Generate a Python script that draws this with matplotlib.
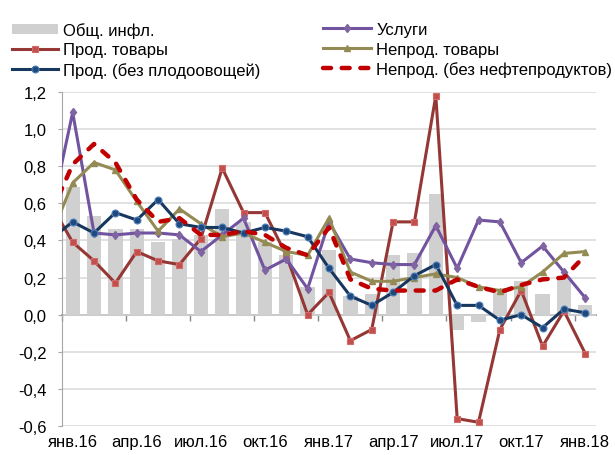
import numpy as np
import matplotlib
matplotlib.use("Agg")
import matplotlib.pyplot as plt
from matplotlib.ticker import FuncFormatter

plt.rcParams['font.family'] = ['Liberation Sans', 'DejaVu Sans']

months = ['дек.15', 'янв.16', 'фев.16', 'мар.16', 'апр.16', 'май.16', 'июн.16',
          'июл.16', 'авг.16', 'сен.16', 'окт.16', 'ноя.16', 'дек.16',
          'янв.17', 'фев.17', 'мар.17', 'апр.17', 'май.17', 'июн.17',
          'июл.17', 'авг.17', 'сен.17', 'окт.17', 'ноя.17', 'дек.17', 'янв.18']
tick_months = ['янв.16', 'апр.16', 'июл.16', 'окт.16', 'янв.17', 'апр.17',
               'июл.17', 'окт.17', 'янв.18']

total_infl = [np.nan, 0.69, 0.53, 0.46, 0.46, 0.39, 0.41, 0.43, 0.57, 0.50, 0.39,
              0.32, 0.15, 0.35, 0.10, 0.11, 0.32, 0.33, 0.65, -0.08, -0.04,
              0.13, 0.18, 0.11, 0.19, 0.05]
food = [0.59, 0.39, 0.29, 0.17, 0.34, 0.29, 0.27, 0.41, 0.79, 0.55, 0.55, 0.32,
        0.00, 0.12, -0.14, -0.08, 0.50, 0.50, 1.18, -0.56, -0.58, -0.08, 0.13,
        -0.17, 0.02, -0.21]
services = [0.55, 1.09, 0.44, 0.43, 0.44, 0.44, 0.43, 0.34, 0.43, 0.52, 0.24,
            0.30, 0.14, 0.50, 0.30, 0.28, 0.27, 0.27, 0.48, 0.25, 0.51, 0.50,
            0.28, 0.37, 0.23, 0.09]
nonfood = [0.43, 0.71, 0.82, 0.78, 0.61, 0.45, 0.57, 0.49, 0.42, 0.44, 0.39,
           0.34, 0.32, 0.52, 0.23, 0.18, 0.18, 0.20, 0.22, 0.20, 0.15, 0.13,
           0.15, 0.23, 0.33, 0.34]
food_ex_fv = [0.41, 0.50, 0.44, 0.55, 0.51, 0.62, 0.49, 0.47, 0.47, 0.44, 0.47,
              0.45, 0.42, 0.25, 0.10, 0.05, 0.12, 0.21, 0.27, 0.05, 0.05, -0.03,
              0.00, -0.07, 0.03, 0.01]
nonfood_ex_oil = [0.55, 0.81, 0.92, 0.82, 0.62, 0.50, 0.52, 0.43, 0.43, 0.45,
                  0.43, 0.36, 0.32, 0.47, 0.19, 0.14, 0.13, 0.13, 0.13, 0.19,
                  0.15, 0.12, 0.16, 0.19, 0.20, 0.32]

x = np.arange(len(months))

fig = plt.figure(figsize=(6.15, 4.56), dpi=100)
ax = fig.add_axes([62/615, 1-427/456, (596-62)/615, (427-93)/456])

ax.set_xlim(0.5, len(months) - 0.5)
ax.set_ylim(-0.6, 1.2)
ax.set_yticks(np.arange(-0.6, 1.21, 0.2))
ax.yaxis.set_major_formatter(FuncFormatter(lambda v, p: f"{v:.1f}".replace('.', ',').replace('-0,0', '0,0')))
ax.grid(axis='y', color='#d9d9d9', lw=1.1)
ax.set_axisbelow(True)

bars = ax.bar(x, total_infl, width=0.67, color='#d0d0d0', zorder=1, label='Общ. инфл.')

lw = 2.2
l_food, = ax.plot(x, food, color='#953735', lw=lw, marker='s', ms=5,
                  mfc='#c0504d', mec='#d46a68', mew=0.8, zorder=3, label='Прод. товары')
l_serv, = ax.plot(x, services, color='#7153a0', lw=lw, marker='d', ms=4.5,
                  mfc='#8064a2', mec='#8064a2', zorder=3, label='Услуги')
l_nonf, = ax.plot(x, nonfood, color='#948a54', lw=lw, marker='^', ms=5,
                  mfc='#948a54', mec='#948a54', zorder=3, label='Непрод. товары')
l_fex, = ax.plot(x, food_ex_fv, color='#17375e', lw=lw, marker='o', ms=5,
                 mfc='#1f497d', mec='#4f81bd', mew=0.8, zorder=4,
                 label='Прод. (без плодоовощей)')
l_nex, = ax.plot(x, nonfood_ex_oil, color='#c00000', lw=3.2, ls=(0, (1.8, 2.4)),
                 dash_capstyle='round', zorder=5,
                 label='Непрод. (без нефтепродуктов)')

for s in ['top', 'right', 'bottom']:
    ax.spines[s].set_visible(False)
ax.spines['left'].set_color('#a6a6a6')
ax.tick_params(axis='y', length=3, color='#a6a6a6', labelsize=12, pad=8)

first = months.index(tick_months[0])
ax.set_xticks(x[first::3])
ax.set_xticklabels(tick_months)
ax.tick_params(axis='x', length=0, labelsize=12, pad=6)

# zero axis line with category-boundary tick marks
sec = ax.secondary_xaxis(0.6 / 1.8)
sec.set_xticks(x[first::3] - 0.5)
sec.tick_params(axis='x', length=4, color='#868686', labelbottom=False, width=1)
sec.spines['bottom'].set_color('#868686')
sec.spines['bottom'].set_linewidth(1.2)

leg_kw = dict(loc='upper left', frameon=False, fontsize=12,
              handletextpad=0.3, labelspacing=0.27, borderpad=0,
              borderaxespad=0, handleheight=0.6)
leg1 = fig.legend([bars, l_food, l_fex],
                  ['Общ. инфл.', 'Прод. товары', 'Прод. (без плодоовощей)'],
                  bbox_to_anchor=(12/615, 1-23/456), handlelength=2.75, **leg_kw)
leg2 = fig.legend([l_serv, l_nonf, l_nex],
                  ['Услуги', 'Непрод. товары', 'Непрод. (без нефтепродуктов)'],
                  bbox_to_anchor=(323/615, 1-23/456), handlelength=2.9, **leg_kw)

fig.savefig('out.png', dpi=100)
